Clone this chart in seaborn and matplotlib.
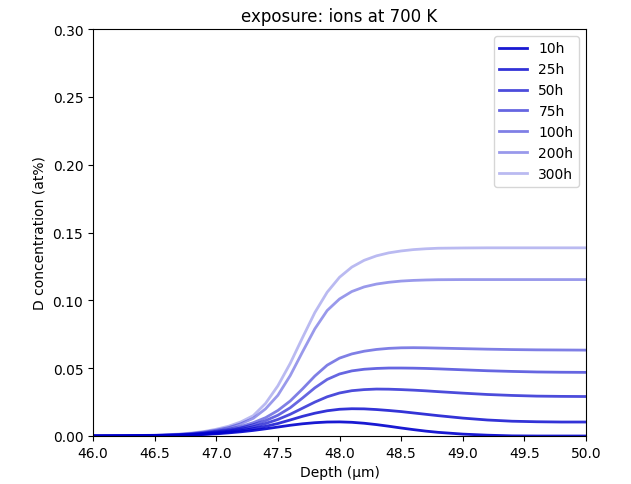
import matplotlib
matplotlib.use("Agg")
import matplotlib.pyplot as plt
import seaborn as sns
import pandas as pd
from matplotlib.colors import to_rgba

depth = [46.0, 46.25, 46.5, 46.7, 46.8, 46.9, 47.0, 47.1, 47.2, 47.3, 47.4, 47.5,
         47.6, 47.7, 47.8, 47.9, 48.0, 48.1, 48.2, 48.3, 48.4, 48.5, 48.6, 48.7,
         48.8, 49.0, 49.2, 49.4, 49.6, 49.8, 50.0]

c_10h = [0.0, 0.0, 0.0002, 0.0005, 0.0007, 0.0011, 0.0016, 0.0023, 0.0031, 0.0041,
         0.0053, 0.0066, 0.0079, 0.0090, 0.0098, 0.0103, 0.0104, 0.0101, 0.0094,
         0.0084, 0.0072, 0.0059, 0.0047, 0.0036, 0.0027, 0.0014, 0.0006, 0.0001,
         0.0, 0.0, 0.0]
c_25h = [0.0, 0.0001, 0.0002, 0.0006, 0.0009, 0.0014, 0.0020, 0.0029, 0.0040, 0.0054,
         0.0071, 0.0092, 0.0118, 0.0145, 0.0168, 0.0186, 0.0197, 0.0201, 0.0200,
         0.0195, 0.0188, 0.0180, 0.0170, 0.0160, 0.0150, 0.0132, 0.0118, 0.0109,
         0.0105, 0.0103, 0.0103]
c_50h = [0.0, 0.0001, 0.0003, 0.0007, 0.0011, 0.0017, 0.0025, 0.0036, 0.0050, 0.0068,
         0.0092, 0.0122, 0.0160, 0.0205, 0.0250, 0.0289, 0.0317, 0.0334, 0.0342,
         0.0346, 0.0345, 0.0342, 0.0338, 0.0333, 0.0327, 0.0316, 0.0306, 0.0299,
         0.0294, 0.0292, 0.0291]
c_75h = [0.0, 0.0001, 0.0003, 0.0008, 0.0013, 0.0020, 0.0030, 0.0043, 0.0060, 0.0083,
         0.0113, 0.0153, 0.0208, 0.0280, 0.0355, 0.0417, 0.0457, 0.0480, 0.0492,
         0.0498, 0.0501, 0.0501, 0.0500, 0.0498, 0.0495, 0.0488, 0.0481, 0.0476,
         0.0472, 0.0470, 0.0469]
c_100h = [0.0, 0.0001, 0.0004, 0.0010, 0.0016, 0.0024, 0.0035, 0.0050, 0.0070, 0.0098,
          0.0135, 0.0188, 0.0258, 0.0347, 0.0442, 0.0522, 0.0574, 0.0605, 0.0625,
          0.0638, 0.0646, 0.0650, 0.0651, 0.0650, 0.0648, 0.0644, 0.0640, 0.0637,
          0.0635, 0.0634, 0.0633]
c_200h = [0.0, 0.0001, 0.0005, 0.0012, 0.0019, 0.0029, 0.0043, 0.0062, 0.0090, 0.0130,
          0.0200, 0.0300, 0.0445, 0.0620, 0.0790, 0.0925, 0.1010, 0.1065, 0.1099,
          0.1120, 0.1133, 0.1142, 0.1147, 0.1150, 0.1152, 0.1153, 0.1153, 0.1153,
          0.1153, 0.1153, 0.1153]
c_300h = [0.0, 0.0002, 0.0006, 0.0014, 0.0022, 0.0033, 0.0050, 0.0072, 0.0104, 0.0150,
          0.0240, 0.0370, 0.0535, 0.0725, 0.0910, 0.1060, 0.1170, 0.1245, 0.1295,
          0.1328, 0.1350, 0.1364, 0.1374, 0.1380, 0.1384, 0.1386, 0.1387, 0.1387,
          0.1387, 0.1387, 0.1387]

labels = ["10h", "25h", "50h", "75h", "100h", "200h", "300h"]
series = [c_10h, c_25h, c_50h, c_75h, c_100h, c_200h, c_300h]
alphas = [0.9, 0.8, 0.7, 0.6, 0.5, 0.4, 0.27]

rows = []
for lab, vals in zip(labels, series):
    for d, v in zip(depth, vals):
        rows.append({"Depth": d, "conc": v, "time": lab})
df = pd.DataFrame(rows)

palette = {lab: to_rgba("mediumblue", a) for lab, a in zip(labels, alphas)}

fig = plt.figure(figsize=(6.31, 4.85), dpi=100)
ax = fig.add_axes([93 / 631, 1 - 437 / 485, (586 - 93) / 631, (437 - 30) / 485])
sns.lineplot(data=df, x="Depth", y="conc", hue="time", hue_order=labels,
             palette=palette, linewidth=2, ax=ax, sort=True)
ax.set_xlim(46, 50)
ax.set_ylim(0, 0.30)
ax.set_xlabel("Depth (μm)")
ax.set_ylabel("D concentration (at%)")
ax.set_title("exposure: ions at 700 K")
ax.set_yticks([0.0, 0.05, 0.10, 0.15, 0.20, 0.25, 0.30])
ax.legend(loc="upper right", title=None)
fig.savefig("out.png", dpi=100)
